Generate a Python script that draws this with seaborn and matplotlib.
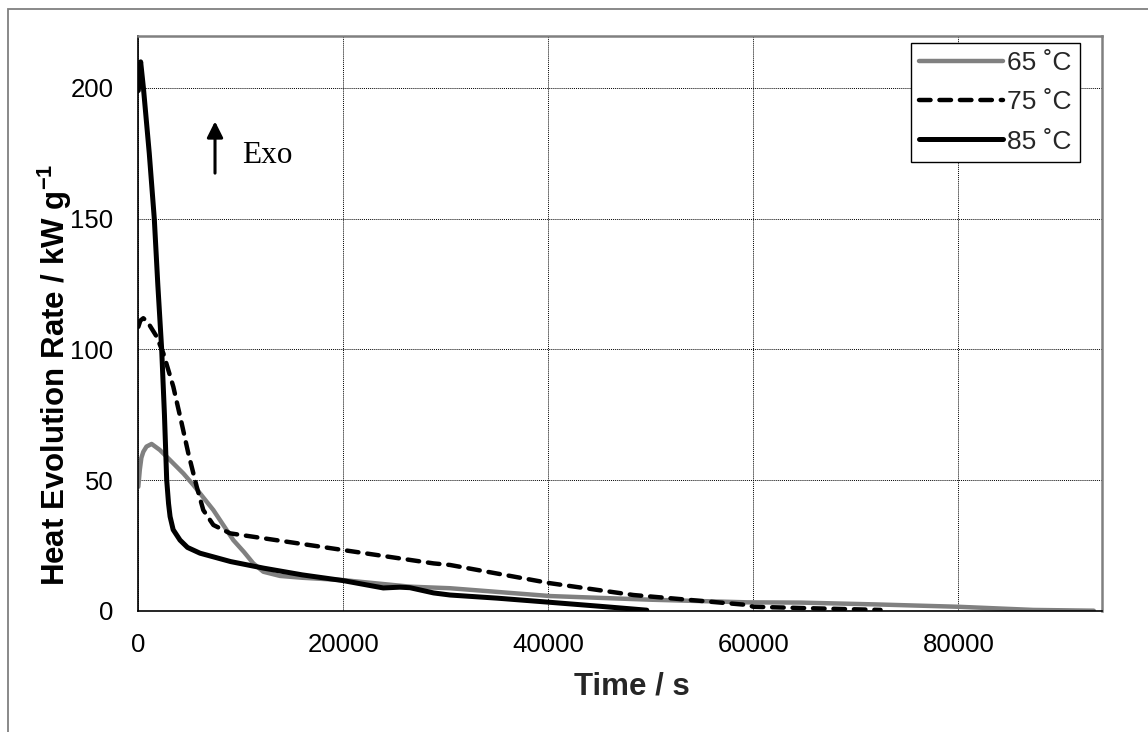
import numpy as np
import pandas as pd
import matplotlib
matplotlib.use("Agg")
import matplotlib.pyplot as plt
from matplotlib.patches import Rectangle
import seaborn as sns

# ---- data ----
t65 = [0, 150, 300, 490, 800, 1300, 2100, 2770, 4400, 5370, 7320, 9270, 10300,
       11220, 12200, 13820, 16000, 20000, 26500, 30400, 40200, 50000, 59400, 64600,
       72000, 80000, 87300, 93200]
v65 = [47.4, 54.0, 58.5, 60.8, 62.8, 63.8, 61.5, 58.9, 52.5, 48.1, 38.5, 27.0,
       22.5, 18.1, 14.9, 13.3, 12.6, 11.7, 9.2, 8.6, 5.6, 4.2, 3.2, 3.1, 2.4, 1.5,
       0.3, 0.0]

t75 = [0, 200, 490, 900, 1800, 2440, 3415, 4230, 4880, 5700, 6340, 7320, 8950,
       14480, 20000, 28800, 30400, 40200, 48300, 59400, 60000, 66000, 72400]
v75 = [108.6, 111.0, 111.9, 110.5, 104.8, 98.5, 85.7, 71.7, 60.2, 47.4, 38.5,
       32.8, 29.6, 26.4, 23.2, 18.1, 17.5, 10.5, 6.0, 2.2, 1.5, 0.9, 0.3]

t85 = [0, 230, 500, 1070, 1560, 1900, 2280, 2550, 2770, 2950, 3100, 3400, 4070,
       4800, 6020, 9000, 12200, 16000, 20000, 23900, 25500, 26500, 28800, 30400,
       35000, 40200, 45000, 49600]
v85 = [199.0, 210.0, 200.0, 175.0, 150.0, 125.0, 100.0, 75.0, 50.0, 41.0, 36.0,
       31.0, 27.0, 24.2, 22.0, 18.8, 16.3, 13.7, 11.5, 8.7, 9.0, 8.8, 6.8, 6.0,
       4.8, 3.2, 1.7, 0.2]

labels = ["65 \u02daC", "75 \u02daC", "85 \u02daC"]
xticks = [0, 20000, 40000, 60000, 80000]
yticks = [0, 50, 100, 150, 200]

df = pd.concat([
    pd.DataFrame({"t": t65, "v": v65, "s": labels[0]}),
    pd.DataFrame({"t": t75, "v": v75, "s": labels[1]}),
    pd.DataFrame({"t": t85, "v": v85, "s": labels[2]}),
], ignore_index=True)

sns.set_theme(style="white")
plt.rcParams["font.family"] = ["Liberation Sans", "DejaVu Sans"]
plt.rcParams["mathtext.fontset"] = "custom"
plt.rcParams["mathtext.rm"] = "Liberation Sans"
plt.rcParams["mathtext.bf"] = "Liberation Sans:bold"

fig = plt.figure(figsize=(11.48, 7.32), dpi=100)
ax = fig.add_axes([138.3 / 1148, 1 - 610.7 / 732, (1102 - 138.3) / 1148, (610.7 - 35.7) / 732])

styles = {
    labels[0]: dict(color="#808080", lw=3.2, ls="-"),
    labels[1]: dict(color="black", lw=3.2, ls=(0, (2.6, 2.0))),
    labels[2]: dict(color="black", lw=3.6, ls="-"),
}
for lab in labels:
    sub = df[df["s"] == lab]
    st = styles[lab]
    sns.lineplot(data=sub, x="t", y="v", ax=ax, color=st["color"], linewidth=st["lw"],
                 linestyle=st["ls"], label=lab, sort=False, estimator=None)
for line in ax.get_lines():
    line.set_dash_capstyle("round")
    line.set_solid_capstyle("round")
    line.set_solid_joinstyle("round")
    line.set_dash_joinstyle("round")

ax.set_xlim(0, 94000)
ax.set_ylim(0, 220)
ax.set_xticks(xticks)
ax.set_yticks(yticks)
ax.set_xticklabels([str(v) for v in xticks])
ax.set_yticklabels([str(v) for v in yticks])
ax.tick_params(axis="both", direction="out", length=7, width=1, color="black",
               labelsize=18.5, labelcolor="black")
ax.tick_params(axis="y", pad=11)
ax.tick_params(axis="x", pad=9)
ax.grid(True, color="black", linestyle=(0, (1, 1)), linewidth=0.7)

for side in ["left", "bottom"]:
    ax.spines[side].set_color("black")
    ax.spines[side].set_linewidth(1.2)
for side in ["top", "right"]:
    ax.spines[side].set_color("#808080")
    ax.spines[side].set_linewidth(1.8)
for s in ax.spines.values():
    s.set_visible(True)

ax.set_xlabel("Time / s", fontsize=22.5, fontweight="bold")
ax.xaxis.set_label_coords(0.512, -0.106)
ax.set_ylabel("")
fig.text(55 / 1148, 1 - 375 / 732, "Heat Evolution Rate / kW g$^{\\mathbf{-1}}$",
         fontsize=22.5, fontweight="bold", rotation=90, ha="center", va="center", color="black")

leg = ax.legend(loc="upper right", bbox_to_anchor=(0.977, 0.987), borderaxespad=0,
                fontsize=19, frameon=True, fancybox=False, shadow=False,
                handlelength=3.2, handletextpad=0.15, labelspacing=0.58,
                borderpad=0.3)
leg.get_frame().set_edgecolor("black")
leg.get_frame().set_linewidth(1.0)
leg.get_frame().set_alpha(1)

ax.annotate("", xy=(0.0796, 0.851), xytext=(0.0796, 0.761), xycoords="axes fraction",
            arrowprops=dict(arrowstyle="-|>", lw=2.2, color="black", mutation_scale=24,
                            shrinkA=0, shrinkB=0))
ax.text(0.1078, 0.791, "Exo", transform=ax.transAxes, fontsize=22.5,
        family=["Liberation Serif", "DejaVu Serif"], va="center", ha="left", color="black")

fig.patches.append(Rectangle((7.5 / 1148, -0.5), 2, 0.5 + 1 - 9 / 732, transform=fig.transFigure,
                             fill=False, edgecolor="#808080", linewidth=1.3, zorder=0))

fig.savefig("out.png", dpi=100, facecolor="white")
